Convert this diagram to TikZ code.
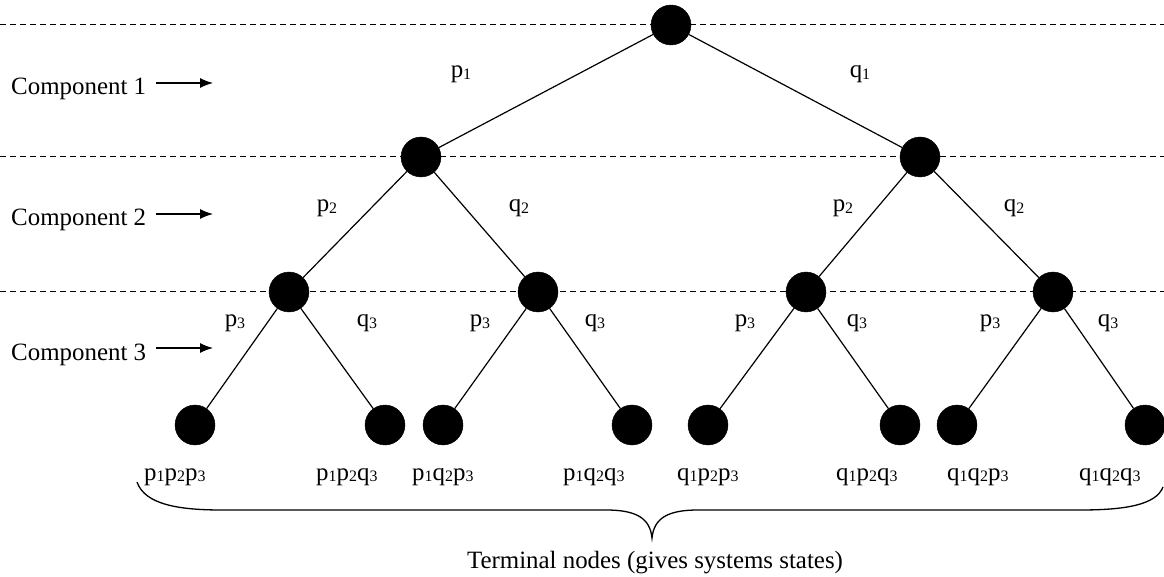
\documentclass[tikz,border=0pt]{standalone}
\usepackage{fontspec}
\setmainfont{Liberation Serif}
\usetikzlibrary{arrows.meta}
\newcommand{\lsub}[1]{\raisebox{-1.5bp}{\fontsize{16}{16}\selectfont #1}}
\begin{document}
\begin{tikzpicture}[x=1bp,y=-1bp,
  dot/.style={circle,fill=black,draw=black,minimum size=40bp,inner sep=0pt},
  edgeline/.style={line width=1.2bp},
  levelline/.style={line width=1bp,dash pattern=on 6bp off 4bp},
  txt/.style={font=\fontsize{25}{30}\selectfont,inner sep=0pt},
  lbl/.style={txt,anchor=base},
  leaflbl/.style={txt,anchor=base west},
  comparrow/.style={line width=1.2bp,-{Latex[length=13bp,width=10bp]}}]
\useasboundingbox (0,0) rectangle (1164,577);
% dashed level lines
\coordinate (d1a) at (0,25);   \coordinate (d1b) at (1164,25);
\coordinate (d2a) at (0,157);  \coordinate (d2b) at (1164,157);
\coordinate (d3a) at (0,292);  \coordinate (d3b) at (1164,292);
\draw[levelline] (d1a) -- (d1b);
\draw[levelline] (d2a) -- (d2b);
\draw[levelline] (d3a) -- (d3b);
% nodes
\node[dot] (r) at (671,25) {};
\node[dot] (a) at (421,157) {};
\node[dot] (b) at (920,157) {};
\node[dot] (aa) at (289,292) {};
\node[dot] (ab) at (538,292) {};
\node[dot] (ba) at (806,292) {};
\node[dot] (bb) at (1053,292) {};
\node[dot] (l1) at (195,425) {};
\node[dot] (l2) at (385,425) {};
\node[dot] (l3) at (443,425) {};
\node[dot] (l4) at (632,425) {};
\node[dot] (l5) at (708,425) {};
\node[dot] (l6) at (900,425) {};
\node[dot] (l7) at (957,425) {};
\node[dot] (l8) at (1145,425) {};
% edges
\draw[edgeline] (r) -- (a);
\draw[edgeline] (r) -- (b);
\draw[edgeline] (a) -- (aa);
\draw[edgeline] (a) -- (ab);
\draw[edgeline] (b) -- (ba);
\draw[edgeline] (b) -- (bb);
\draw[edgeline] (aa) -- (l1);
\draw[edgeline] (aa) -- (l2);
\draw[edgeline] (ab) -- (l3);
\draw[edgeline] (ab) -- (l4);
\draw[edgeline] (ba) -- (l5);
\draw[edgeline] (ba) -- (l6);
\draw[edgeline] (bb) -- (l7);
\draw[edgeline] (bb) -- (l8);
% edge labels
\node[lbl] (e1) at (461,78) {p\lsub{1}};
\node[lbl] (e2) at (860,78) {q\lsub{1}};
\node[lbl] (e3) at (327,212) {p\lsub{2}};
\node[lbl] (e4) at (519,212) {q\lsub{2}};
\node[lbl] (e5) at (843,212) {p\lsub{2}};
\node[lbl] (e6) at (1014,212) {q\lsub{2}};
\node[lbl] (e7) at (235,327) {p\lsub{3}};
\node[lbl] (e8) at (367,327) {q\lsub{3}};
\node[lbl] (e9) at (480,327) {p\lsub{3}};
\node[lbl] (e10) at (595,327) {q\lsub{3}};
\node[lbl] (e11) at (745,327) {p\lsub{3}};
\node[lbl] (e12) at (857,327) {q\lsub{3}};
\node[lbl] (e13) at (990,327) {p\lsub{3}};
\node[lbl] (e14) at (1108,327) {q\lsub{3}};
% leaf labels
\node[leaflbl] (t1) at (144,480) {p\lsub{1}p\lsub{2}p\lsub{3}};
\node[leaflbl] (t2) at (316,480) {p\lsub{1}p\lsub{2}q\lsub{3}};
\node[leaflbl] (t3) at (412,480) {p\lsub{1}q\lsub{2}p\lsub{3}};
\node[leaflbl] (t4) at (563,480) {p\lsub{1}q\lsub{2}q\lsub{3}};
\node[leaflbl] (t5) at (677,480) {q\lsub{1}p\lsub{2}p\lsub{3}};
\node[leaflbl] (t6) at (836,480) {q\lsub{1}p\lsub{2}q\lsub{3}};
\node[leaflbl] (t7) at (947,480) {q\lsub{1}q\lsub{2}p\lsub{3}};
\node[leaflbl] (t8) at (1079,480) {q\lsub{1}q\lsub{2}q\lsub{3}};
% component labels
\node[txt,anchor=base west] (c1) at (11,95) {Component 1};
\node[txt,anchor=base west] (c2) at (11,226) {Component 2};
\node[txt,anchor=base west] (c3) at (11,360) {Component 3};
\coordinate (c1e) at (213,83);
\coordinate (c2e) at (213,214);
\coordinate (c3e) at (213,348);
\draw[comparrow] ([xshift=10bp]c1.east |- c1e) -- (c1e);
\draw[comparrow] ([xshift=10bp]c2.east |- c2e) -- (c2e);
\draw[comparrow] ([xshift=10bp]c3.east |- c3e) -- (c3e);
% brace
\coordinate (bl) at (137,482);
\coordinate (bt) at (652,538);
\coordinate (br) at (1163,487);
\draw[line width=1.3bp] (bl) .. controls (145,505) and (180,510) .. (222,510)
  -- (606,510) .. controls (636,510) and (650,518) .. (bt)
  .. controls (654,518) and (668,510) .. (698,510)
  -- (1080,510) .. controls (1125,510) and (1156,505) .. (br);
\node[lbl] (term) at (655,568) {Terminal nodes (gives systems states)};
\end{tikzpicture}
\end{document}
